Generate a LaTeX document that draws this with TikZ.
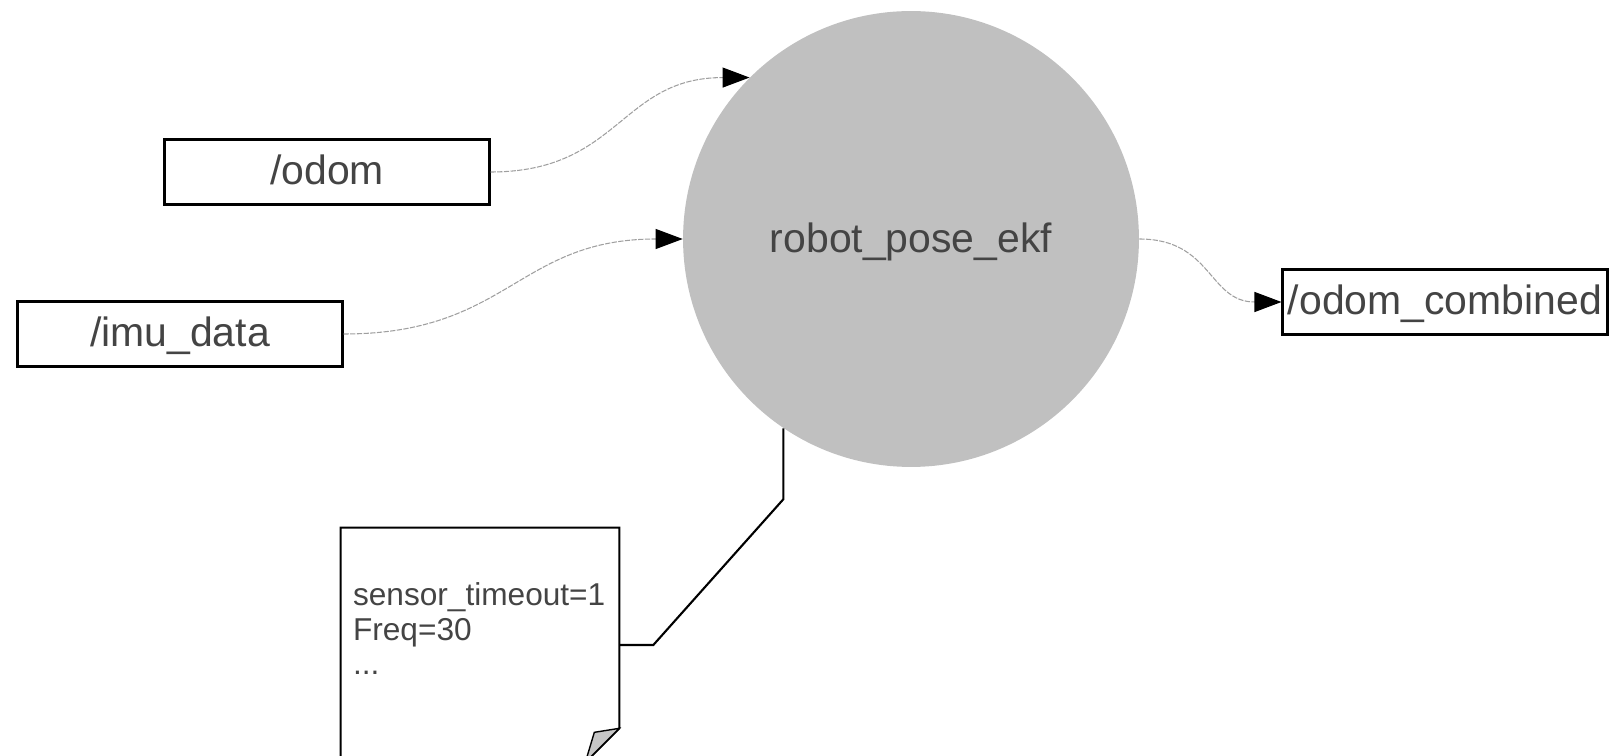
\documentclass[tikz,border=0pt]{standalone}
\usepackage{fontspec}
\setmainfont{Liberation Sans}
\usetikzlibrary{arrows.meta,calc,positioning}
\definecolor{txtgray}{HTML}{444444}
\definecolor{ekfgray}{HTML}{C0C0C0}
\begin{document}
\begin{tikzpicture}[x=0.02cm,y=-0.02cm,
	topic/.style={draw,line width=1.2pt,minimum width=6.5cm,minimum height=1.3cm,inner sep=0pt,text height=0.64cm,text depth=0.12cm,text=txtgray,font=\fontsize{23.3}{28}\selectfont},
	ekfnode/.style={circle,fill=ekfgray,minimum size=9.12cm,inner sep=0pt,text height=0.66cm,text depth=0.12cm,text=txtgray,font=\fontsize{23.3}{28}\selectfont},
	flow/.style={gray!75,line width=0.6pt,dash pattern=on 3pt off 0.8pt,-{Triangle[length=0.54cm,width=0.4cm,black]}},
	notebox/.style={minimum width=5.56cm,minimum height=4.68cm,inner sep=0pt},
	notetext/.style={align=left,inner sep=0pt,text=txtgray,font=\fontsize{18}{19.6}\selectfont},
	notelink/.style={line width=1.2pt,black}]
				\useasboundingbox (0,0) rectangle (1610,756);
				\node[ekfnode] (ekf) at (911,239) {robot\_pose\_ekf};
				\node[topic] (odom) at (327,172) {/odom};
				\node[topic] (imu) at (180,334) {/imu\_data};
				\node[topic] (combined) at (1445,302) {/odom\_combined};
				\draw[flow] (odom.east) to[out=0,in=180,looseness=1.2] (ekf.135);
				\draw[flow] (imu.east) to[out=0,in=180,looseness=1.2] (ekf.west);
				\draw[flow] (ekf.east) to[out=0,in=180,looseness=1.2] (combined.west);
				% parameter note
				\node[notebox] (note) at (480,645) {};
				\draw[line width=1.2pt] (note.north west) -- (note.north east) -- ([yshift=0.68cm]note.south east) -- ([xshift=-0.68cm]note.south east) -- (note.south west) -- cycle;
				\filldraw[fill=gray!45,line width=0.8pt] ([yshift=0.68cm]note.south east) -- ([xshift=-0.5cm,yshift=0.6cm]note.south east) -- ([xshift=-0.68cm]note.south east) -- cycle;
				\node[notetext,anchor=north west] (params) at ([xshift=0.24cm,yshift=-1.1cm]note.north west) {sensor\_timeout=1\\Freq=30\\...};
				\draw[notelink] (ekf.236) -- ++(0,71) -- ($(note.east)+(34,0)$) -- (note.east);
\end{tikzpicture}
\end{document}
